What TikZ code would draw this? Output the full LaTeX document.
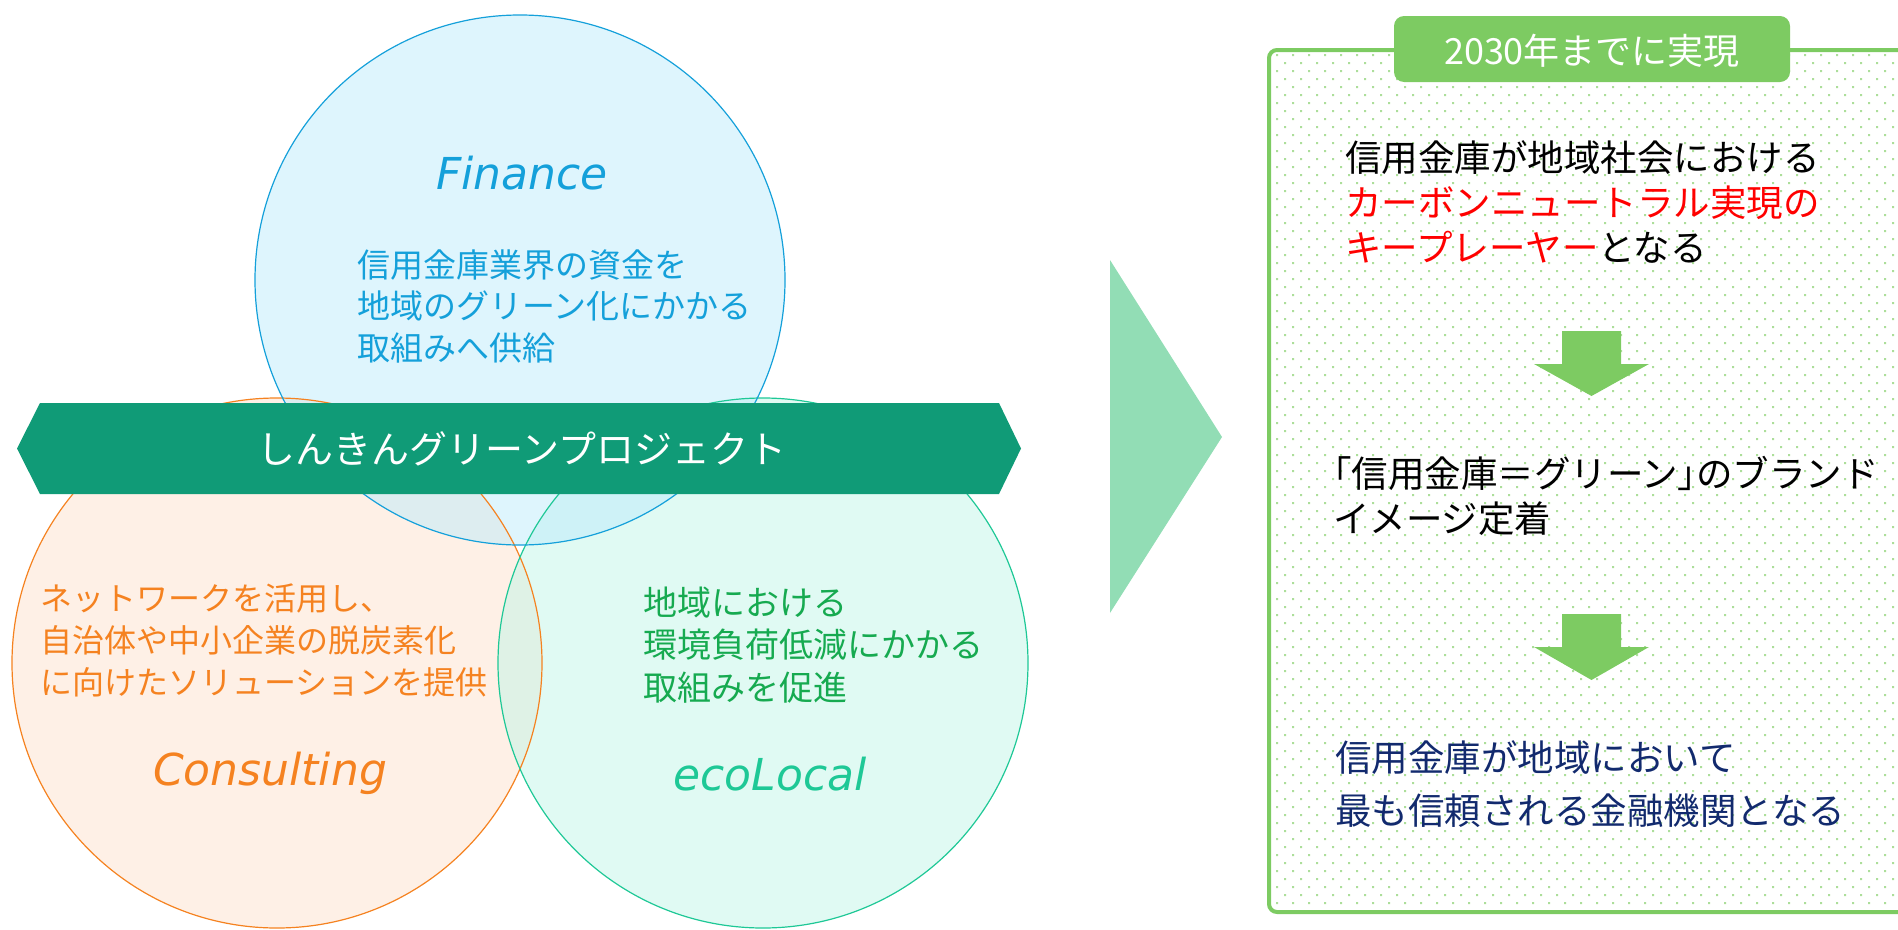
\documentclass[tikz,border=0pt]{standalone}
\usepackage{fontspec}
\setmainfont{Noto Sans CJK JP}
\newfontfamily\paltfont[RawFeature=+palt]{Noto Sans CJK JP}
\newfontfamily\titlefont{DejaVu Sans}
\definecolor{finC}{RGB}{20,160,218}
\definecolor{finF}{RGB}{189,235,251}
\definecolor{conC}{RGB}{245,130,32}
\definecolor{conF}{RGB}{253,225,205}
\definecolor{ecoC}{RGB}{30,200,150}
\definecolor{ecoF}{RGB}{193,245,231}
\definecolor{ecoT}{RGB}{22,170,80}
\definecolor{bannerC}{RGB}{16,155,119}
\definecolor{triC}{RGB}{146,221,181}
\definecolor{boxC}{RGB}{125,203,98}
\definecolor{dotC}{RGB}{172,222,154}
\definecolor{navyC}{RGB}{18,42,110}
\definecolor{redC}{RGB}{255,0,0}
\tikzset{
  venn/.style={line width=1.2pt, fill opacity=0.5},
  bodytext/.style={anchor=west, align=left, inner sep=0pt, font=\fontsize{33}{41.5}\selectfont},
  titletext/.style={inner sep=0pt, font=\titlefont\itshape\fontsize{44}{50}\selectfont},
  righttext/.style={anchor=west, align=left, inner sep=0pt, font=\fontsize{36.5}{45}\selectfont},
  downarrow/.style={fill=boxC},
}
\begin{document}
\begin{tikzpicture}[x=1pt,y=-1pt]
\useasboundingbox (0,0) rectangle (1898,929);
% circles
\path[venn, fill=conF] (277,663) circle[radius=265];
\path[venn, fill=ecoF] (763,663) circle[radius=265];
\path[venn, fill=finF] (520,280) circle[radius=265];
\draw[conC, line width=1.2pt] (277,663) circle[radius=265];
\draw[ecoC, line width=1.2pt] (763,663) circle[radius=265];
\draw[finC, line width=1.2pt] (520,280) circle[radius=265];
% banner
\fill[bannerC] (17,448.5) -- (40,403) -- (999,403) -- (1021,448.5) -- (999,494) -- (40,494) -- cycle;
\node[text=white, inner sep=0pt, font=\fontsize{38}{44}\selectfont] (banner) at (522,449) {しんきんグリーンプロジェクト};
% Finance
\node[titletext, text=finC] (fin) at (522,173) {Finance};
\node[bodytext, text=finC] (finbody) at (357,306) {信用金庫業界の資金を\\地域のグリーン化にかかる\\取組みへ供給};
% Consulting
\node[bodytext, text=conC, font=\fontsize{32}{42}\selectfont] (conbody) at (40,640) {ネットワークを活用し、\\自治体や中小企業の脱炭素化\\に向けたソリューションを提供};
\node[titletext, text=conC] (con) at (270,773) {Consulting};
% ecoLocal
\node[bodytext, text=ecoT, font=\fontsize{34}{42.5}\selectfont] (ecobody) at (643,645) {地域における\\環境負荷低減にかかる\\取組みを促進};
\node[titletext, text=ecoC] (eco) at (770,774) {ecoLocal};
% big triangle
\fill[triC] (1110,260) -- (1222,437) -- (1110,613) -- cycle;
% right box
\begin{scope}
\clip[rounded corners=8pt] (1271,52) rectangle (1930,910);
\fill[dotC] \foreach \yy in {54,70,...,910} { \foreach \xx in {1276,1292,...,1898} { (\xx,\yy) rectangle ++(2,2) } };
\fill[dotC] \foreach \yy in {62,78,...,910} { \foreach \xx in {1284,1300,...,1898} { (\xx,\yy) rectangle ++(2,2) } };
\end{scope}
\draw[boxC, line width=4pt, rounded corners=8pt] (1269,50) rectangle (1930,912);
\fill[boxC, rounded corners=10pt] (1394,16) rectangle (1790,82);
\node[text=white, inner sep=0pt, font=\fontsize{36}{42}\selectfont] (tab) at (1592,51) {2030年までに実現};
% right texts
\node[righttext] (r1) at (1345,202) {信用金庫が地域社会における\\\textcolor{redC}{カーボンニュートラル実現の}\\\textcolor{redC}{キープレーヤー}となる};
\fill[downarrow] (1562,331) -- (1621,331) -- (1621,364) -- (1649,364) -- (1591.5,396) -- (1534,364) -- (1562,364) -- cycle;
\node[righttext] (r2) at (1333,496) {{\paltfont 「}信用金庫＝グリーン{\paltfont 」}のブランド\\イメージ定着};
\fill[downarrow] (1562,614) -- (1621,614) -- (1621,647) -- (1649,647) -- (1591.5,680) -- (1534,647) -- (1562,647) -- cycle;
\node[righttext, text=navyC, font=\fontsize{36.5}{53}\selectfont] (r3) at (1335,784) {信用金庫が地域において\\最も信頼される金融機関となる};
\end{tikzpicture}
\end{document}
